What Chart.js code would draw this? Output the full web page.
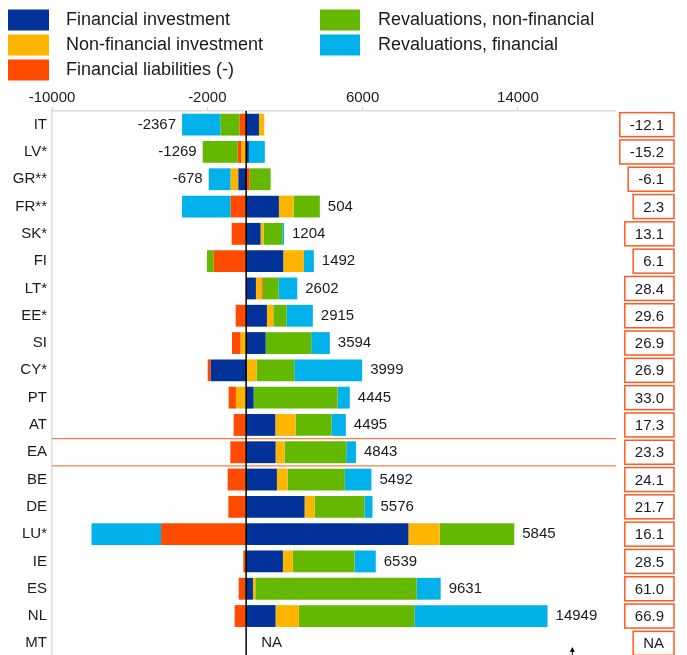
<!DOCTYPE html>
<html>
<head>
<meta charset="utf-8">
<script src="https://cdn.jsdelivr.net/npm/chart.js@4.4.1/dist/chart.umd.min.js"></script>
<style>
  html, body { margin: 0; padding: 0; background: #fff; overflow: hidden; }
  canvas { display: block; }
</style>
</head>
<body>
<canvas id="graph1" width="687" height="658"></canvas>
<script>
// categories, top to bottom
const countries = ["IT", "LV*", "GR**", "FR**", "SK*", "FI", "LT*", "EE*", "SI", "CY*",
  "PT", "AT", "EA", "BE", "DE", "LU*", "IE", "ES", "NL", "MT"];

// components
const finInvestment = [660, 140, -401, 1687, 746, 1913, 504, 1070, 1003, -1826,
  386, 1502, 1517, 1584, 3009, 8359, 1893, 350, 1517, null];
const nonFinInvestment = [273, -231, -396, 756, 154, 1060, 278, 329, -283, 540,
  -525, 1044, 463, 550, 514, 1610, 514, 123, 1199, null];
const finLiabilities = [-334, -206, 180, -797, -746, -1672, 67, -540, -447, -154,
  -375, -643, -813, -952, -916, -4383, -144, -386, -592, null];
const revalNonFin = [-977, -1800, 1080, 1353, 963, -345, 823, 684, 2350, 1939,
  4321, 1852, 3177, 2948, 2572, 3842, 3174, 8313, 5952, null];
const revalFin = [-1990, 823, -1132, -2505, 87, 514, 962, 1353, 957, 3498,
  633, 736, 499, 1373, 412, -3580, 1096, 1235, 6857, null];

// net totals printed next to bars, and the boxed figures on the right
const netTotals = [-2367, -1269, -678, 504, 1204, 1492, 2602, 2915, 3594, 3999,
  4445, 4495, 4843, 5492, 5576, 5845, 6539, 9631, 14949, null];
const boxValues = ["-12.1", "-15.2", "-6.1", "2.3", "13.1", "6.1", "28.4", "29.6", "26.9", "26.9",
  "33.0", "17.3", "23.3", "24.1", "21.7", "16.1", "28.5", "61.0", "66.9", "NA"];

const xTicks = [-10000, -2000, 6000, 14000];

const FONT = "'Liberation Sans', Arial, sans-serif";
const TEXT = "#1a1a1a";

const series = [
  { label: "Financial investment", data: finInvestment, color: "#003299" },
  { label: "Non-financial investment", data: nonFinInvestment, color: "#FFB400" },
  { label: "Financial liabilities (-)", data: finLiabilities, color: "#FF4B00" },
  { label: "Revaluations, non-financial", data: revalNonFin, color: "#65B800" },
  { label: "Revaluations, financial", data: revalFin, color: "#00B1EA" },
];

// legend, totals, boxes, zero line etc.
const extras = {
  id: "extras",
  afterDatasetsDraw(chart) {
    const ctx = chart.ctx;
    const x = chart.scales.x;
    const y = chart.scales.y;
    const area = chart.chartArea;
    const x0 = x.getPixelForValue(0);
    ctx.save();

    // lines around EA row
    const eaIdx = countries.indexOf("EA");
    const half = (y.getPixelForValue(1) - y.getPixelForValue(0)) / 2;
    ctx.strokeStyle = "#ff7a45";
    ctx.lineWidth = 1.2;
    [y.getPixelForValue(eaIdx) - half, y.getPixelForValue(eaIdx) + half].forEach((py) => {
      ctx.beginPath();
      ctx.moveTo(area.left, py);
      ctx.lineTo(area.right + 1, py);
      ctx.stroke();
    });

    // zero line
    ctx.strokeStyle = "#000";
    ctx.lineWidth = 1.5;
    ctx.beginPath();
    ctx.moveTo(x0, area.top);
    ctx.lineTo(x0, area.bottom);
    ctx.stroke();

    // net totals
    ctx.font = "15px " + FONT;
    ctx.fillStyle = TEXT;
    ctx.textBaseline = "middle";
    countries.forEach((c, i) => {
      const py = y.getPixelForValue(i);
      if (netTotals[i] == null) {
        ctx.textAlign = "left";
        ctx.fillText("NA", x0 + 15, py);
        return;
      }
      let pos = 0, neg = 0;
      series.forEach((s) => {
        const v = s.data[i];
        if (v > 0) pos += v;
        else if (v < 0) neg += v;
      });
      if (netTotals[i] < 0) {
        ctx.textAlign = "right";
        ctx.fillText(String(netTotals[i]), x.getPixelForValue(neg) - 6, py);
      } else {
        ctx.textAlign = "left";
        ctx.fillText(String(netTotals[i]), x.getPixelForValue(pos) + 8, py);
      }
    });

    // boxed figures on the right
    const boxRight = 674;
    boxValues.forEach((b, i) => {
      const py = y.getPixelForValue(i);
      const w = ctx.measureText(b).width + 20;
      ctx.fillStyle = "#fff";
      ctx.fillRect(boxRight - w, py - 12, w, 24);
      ctx.strokeStyle = "#ff5a1f";
      ctx.lineWidth = 1.5;
      ctx.strokeRect(boxRight - w, py - 12, w, 24);
      ctx.fillStyle = TEXT;
      ctx.textAlign = "right";
      ctx.fillText(b, boxRight - 10, py + 1);
    });

    // small arrow at the bottom
    const ax = x.getPixelForValue(16800);
    ctx.strokeStyle = "#000";
    ctx.fillStyle = "#000";
    ctx.lineWidth = 1;
    ctx.beginPath();
    ctx.moveTo(ax, area.bottom);
    ctx.lineTo(ax, area.bottom - 8);
    ctx.stroke();
    ctx.beginPath();
    ctx.moveTo(ax, area.bottom - 10);
    ctx.lineTo(ax - 2.5, area.bottom - 5);
    ctx.lineTo(ax + 2.5, area.bottom - 5);
    ctx.closePath();
    ctx.fill();

    // legend, two columns
    ctx.font = "18px " + FONT;
    ctx.textAlign = "left";
    const legendPos = [[8, 9.5], [8, 34.5], [8, 59.5], [320, 9.5], [320, 34.5]];
    series.forEach((s, i) => {
      const [lx, ly] = legendPos[i];
      ctx.fillStyle = s.color;
      ctx.fillRect(lx, ly, i < 3 ? 41 : 40, 21);
      ctx.fillStyle = TEXT;
      ctx.fillText(s.label, lx + 58, ly + 11);
    });

    ctx.restore();
  },
};

const ctx1 = document.getElementById("graph1").getContext("2d");
const myChart = new Chart(ctx1, {
  type: "bar",
  data: {
    labels: countries,
    datasets: series.map((s) => ({
      label: s.label,
      data: s.data,
      backgroundColor: s.color,
      borderWidth: 0,
      barPercentage: 0.8,
      categoryPercentage: 1.0,
    })),
  },
  options: {
    indexAxis: "y",
    responsive: false,
    animation: false,
    layout: { padding: { top: 85, right: 72, bottom: 1, left: 0 } },
    plugins: { legend: { display: false }, tooltip: { enabled: false } },
    scales: {
      x: {
        type: "linear",
        position: "top",
        stacked: true,
        min: -10000,
        max: 19000,
        afterBuildTicks: (scale) => {
          scale.ticks = xTicks.map((v) => ({ value: v }));
        },
        afterFit: (scale) => {
          scale.height = 26;
        },
        grid: { drawOnChartArea: false, drawTicks: true, tickLength: 4, color: "#cfcfcf" },
        border: { display: true, color: "#dcdcdc", width: 1.5 },
        ticks: {
          color: TEXT,
          font: { family: FONT, size: 15 },
          padding: 0,
          maxRotation: 0,
          callback: (v) => String(v),
        },
      },
      y: {
        stacked: true,
        afterFit: (scale) => {
          // no extra room for half labels at top and bottom
          scale.width = 52;
          scale.paddingTop = 0;
          scale.paddingBottom = 0;
        },
        grid: { display: false, drawTicks: false },
        border: { display: true, color: "#dcdcdc", width: 1.5 },
        ticks: {
          color: TEXT,
          font: { family: FONT, size: 15 },
          padding: 5,
        },
      },
    },
  },
  plugins: [extras],
});
</script>
</body>
</html>
